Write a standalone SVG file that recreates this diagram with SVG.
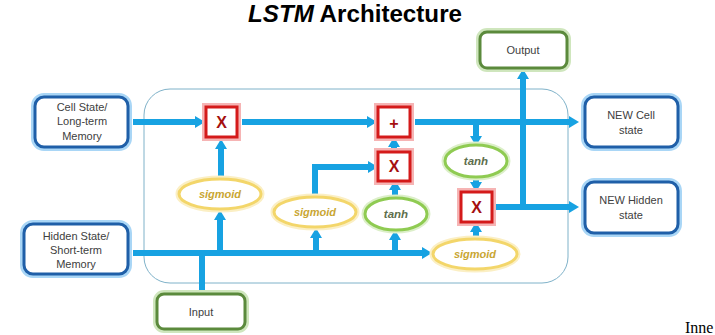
<svg xmlns="http://www.w3.org/2000/svg" width="715" height="335" viewBox="0 0 715 335">
<defs>
<style>
.conn{fill:none;stroke:#17a2e2;stroke-width:6;stroke-linejoin:miter}
.bglow{fill:none;stroke:#a9d6f6;stroke-width:8}
.bbox{fill:#fff;stroke:#1f5fa8;stroke-width:3}
.gglow{fill:none;stroke:#cfe6bd;stroke-width:8}
.gbox{fill:#fff;stroke:#5b8a3c;stroke-width:3}
.rglow{fill:none;stroke:#f6b4b4;stroke-width:8}
.rbox{fill:#fff;stroke:#d41a1a;stroke-width:3}
.yglow{fill:none;stroke:#fbefc4;stroke-width:7}
.yell{fill:#fff;stroke:#f3d66a;stroke-width:3}
.tglow{fill:none;stroke:#dcefc9;stroke-width:7}
.tell{fill:#fff;stroke:#8fcb52;stroke-width:3}
.lbl{font-family:"Liberation Sans",Arial,sans-serif;font-size:11px;fill:#404040;text-anchor:middle}
.gate{font-family:"Liberation Sans",Arial,sans-serif;font-size:16px;font-weight:bold;fill:#a50f0f;text-anchor:middle}
.sig{font-family:"Liberation Sans",Arial,sans-serif;font-size:11px;font-weight:bold;font-style:italic;fill:#c9a632;text-anchor:middle}
.tan{font-family:"Liberation Sans",Arial,sans-serif;font-size:11.5px;font-weight:bold;font-style:italic;fill:#5d6e4c;text-anchor:middle}
</style>
<marker id="ah" markerUnits="userSpaceOnUse" markerWidth="10" markerHeight="12" refX="0" refY="6" orient="auto">
<path d="M0,0 L10,6 L0,12 z" fill="#17a2e2"/>
</marker>
</defs>
<rect width="715" height="335" fill="#fff"/>

<text x="248" y="21.5" font-family="'Liberation Sans',Arial,sans-serif" font-size="23" font-weight="bold" fill="#000" textLength="214" lengthAdjust="spacingAndGlyphs"><tspan font-style="italic">LSTM</tspan> Architecture</text>

<rect x="144" y="89" width="424" height="194" rx="26" ry="26" fill="none" stroke="#7fb2c9" stroke-width="1"/>

<g id="connectors">
<path class="conn" d="M133,122 H195" marker-end="url(#ah)"/>
<path class="conn" d="M242,122 H367" marker-end="url(#ah)"/>
<path class="conn" d="M415,122 H569" marker-end="url(#ah)"/>
<path class="conn" d="M221,178 V149" marker-end="url(#ah)"/>
<path class="conn" d="M133,253 H422" marker-end="url(#ah)"/>
<path class="conn" d="M220,253 V220" marker-end="url(#ah)"/>
<path class="conn" d="M316,253 V238" marker-end="url(#ah)"/>
<path class="conn" d="M395,253 V240" marker-end="url(#ah)"/>
<path class="conn" d="M202,294 V250"/>
<path class="conn" d="M315,196 V167 H368" marker-end="url(#ah)"/>
<path class="conn" d="M395,197 V190" marker-end="url(#ah)"/>
<path class="conn" d="M394,152 V147" marker-end="url(#ah)"/>
<path class="conn" d="M476,122 V136" marker-end="url(#ah)"/>
<path class="conn" d="M476,177 V182" marker-end="url(#ah)"/>
<path class="conn" d="M476,239 V232" marker-end="url(#ah)"/>
<path class="conn" d="M494,207 H569" marker-end="url(#ah)"/>
<path class="conn" d="M523,210 V79" stroke-width="7" marker-end="url(#ah)"/>
</g>

<g id="cell-state">
<rect class="bglow" x="35" y="97" width="93" height="50" rx="9"/>
<rect class="bbox" x="35" y="97" width="93" height="50" rx="9"/>
<text class="lbl" x="82" y="111">Cell State/</text>
<text class="lbl" x="82" y="125">Long-term</text>
<text class="lbl" x="82" y="140">Memory</text>
</g>

<g id="hidden-state">
<rect class="bglow" x="24" y="224" width="104" height="50" rx="9"/>
<rect class="bbox" x="24" y="224" width="104" height="50" rx="9"/>
<text class="lbl" x="76" y="240">Hidden State/</text>
<text class="lbl" x="76" y="254">Short-term</text>
<text class="lbl" x="76" y="268">Memory</text>
</g>

<g id="input">
<rect class="gglow" x="157" y="294" width="88" height="35" rx="7"/>
<rect class="gbox" x="157" y="294" width="88" height="35" rx="7"/>
<text class="lbl" x="201" y="316">Input</text>
</g>

<g id="output">
<rect class="gglow" x="480" y="32" width="87" height="36" rx="7"/>
<rect class="gbox" x="480" y="32" width="87" height="36" rx="7"/>
<text class="lbl" x="523" y="54">Output</text>
</g>

<g id="new-cell">
<rect class="bglow" x="585" y="97" width="93" height="50" rx="9"/>
<rect class="bbox" x="585" y="97" width="93" height="50" rx="9"/>
<text class="lbl" x="631" y="119">NEW Cell</text>
<text class="lbl" x="631" y="134">state</text>
</g>

<g id="new-hidden">
<rect class="bglow" x="585" y="182" width="93" height="51" rx="9"/>
<rect class="bbox" x="585" y="182" width="93" height="51" rx="9"/>
<text class="lbl" x="631" y="204">NEW Hidden</text>
<text class="lbl" x="631" y="219">state</text>
</g>

<g id="forget-mult">
<rect class="rglow" x="206" y="107" width="31" height="30"/>
<rect class="rbox" x="206" y="107" width="31" height="30"/>
<text class="gate" x="221.5" y="128">X</text>
</g>

<g id="add">
<rect class="rglow" x="378" y="107" width="32" height="30"/>
<rect class="rbox" x="378" y="107" width="32" height="30"/>
<text class="gate" x="394" y="129">+</text>
</g>

<g id="input-mult">
<rect class="rglow" x="378" y="152" width="32" height="29"/>
<rect class="rbox" x="378" y="152" width="32" height="29"/>
<text class="gate" x="394" y="172">X</text>
</g>

<g id="output-mult">
<rect class="rglow" x="461" y="192" width="31" height="30"/>
<rect class="rbox" x="461" y="192" width="31" height="30"/>
<text class="gate" x="476.5" y="213">X</text>
</g>

<g id="sigmoid-forget">
<ellipse class="yglow" cx="220" cy="194" rx="41" ry="15"/>
<ellipse class="yell" cx="220" cy="194" rx="41" ry="15"/>
<text class="sig" x="220" y="198">sigmoid</text>
</g>

<g id="sigmoid-input">
<ellipse class="yglow" cx="315" cy="212" rx="41" ry="15"/>
<ellipse class="yell" cx="315" cy="212" rx="41" ry="15"/>
<text class="sig" x="315" y="216">sigmoid</text>
</g>

<g id="tanh-candidate">
<ellipse class="tglow" cx="396" cy="214" rx="31" ry="16"/>
<ellipse class="tell" cx="396" cy="214" rx="31" ry="16"/>
<text class="tan" x="396" y="218">tanh</text>
</g>

<g id="tanh-cell">
<ellipse class="tglow" cx="476" cy="161" rx="31" ry="16"/>
<ellipse class="tell" cx="476" cy="161" rx="31" ry="16"/>
<text class="tan" x="476" y="165">tanh</text>
</g>

<g id="sigmoid-output">
<ellipse class="yglow" cx="475" cy="254" rx="42" ry="15"/>
<ellipse class="yell" cx="475" cy="254" rx="42" ry="15"/>
<text class="sig" x="475" y="258">sigmoid</text>
</g>

<text x="685" y="333" font-family="'Liberation Serif','Times New Roman',serif" font-size="16" fill="#000">Inne</text>
</svg>
